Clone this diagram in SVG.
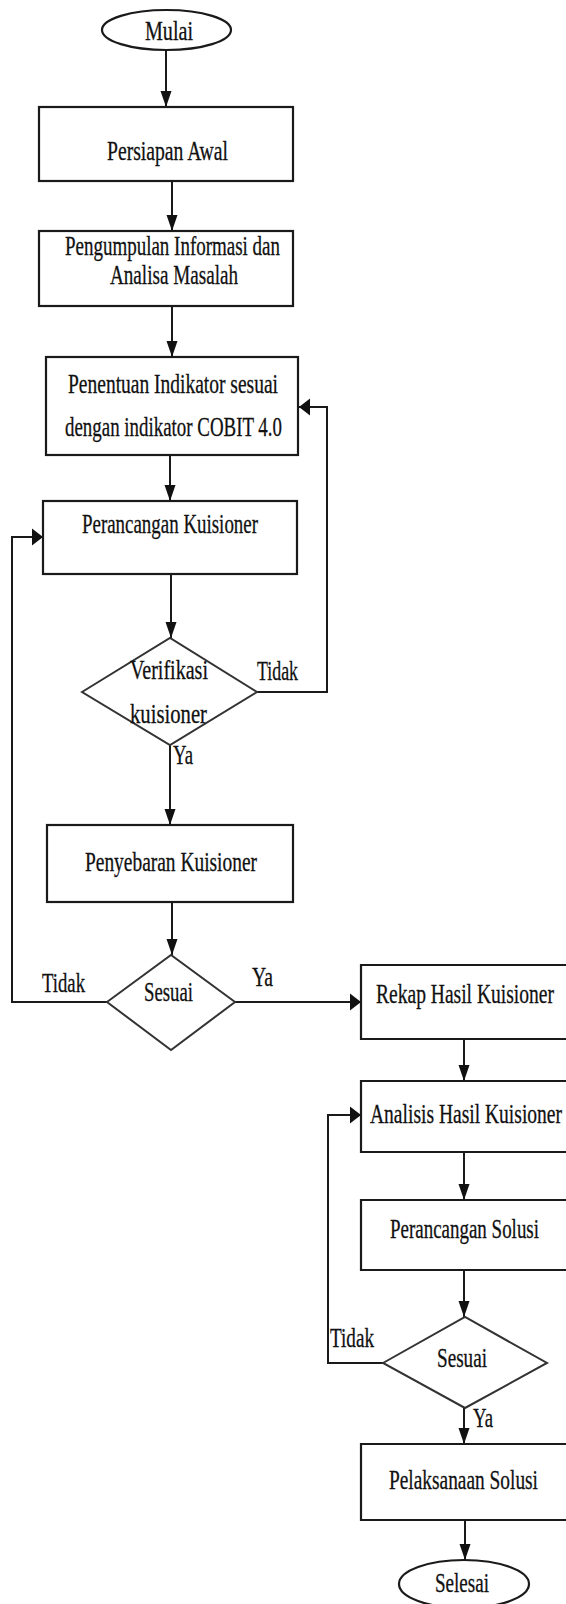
<svg xmlns="http://www.w3.org/2000/svg" width="566" height="1604" viewBox="0 0 566 1604">
<defs>
<style>
.n{fill:#fff;stroke:#1a1a1a;stroke-width:2.2}
.o{fill:none;stroke:#1a1a1a;stroke-width:2.2}
.d{fill:#fff;stroke:#333;stroke-width:2}
.c{fill:none;stroke:#1a1a1a;stroke-width:2}
text{font-family:"Liberation Serif","Times New Roman",serif;font-size:28px;fill:#111;stroke:#111;stroke-width:0.3}
</style>
<marker id="av" markerUnits="userSpaceOnUse" markerWidth="18" markerHeight="12" refX="16" refY="6" orient="auto">
<path d="M0,0.5 L16,6 L0,11.5 Z" fill="#111"/>
</marker>
<marker id="ah" markerUnits="userSpaceOnUse" markerWidth="12" markerHeight="18" refX="11" refY="9" orient="auto">
<path d="M0,0.5 L11,9 L0,17.5 Z" fill="#111"/>
</marker>
</defs>
<rect width="566" height="1604" fill="#fff"/>
<g id="connectors">
<path class="c" d="M166,50 V107" marker-end="url(#av)"/>
<path class="c" d="M172,181 V231" marker-end="url(#av)"/>
<path class="c" d="M172,306 V357" marker-end="url(#av)"/>
<path class="c" d="M170,455 V501" marker-end="url(#av)"/>
<path class="c" d="M171,574 V638" marker-end="url(#av)"/>
<path class="c" d="M170,745 V825" marker-end="url(#av)"/>
<path class="c" d="M257,692 H327 V407 H299" marker-end="url(#ah)"/>
<path class="c" d="M172,902 V955" marker-end="url(#av)"/>
<path class="c" d="M107,1002 H12 V537 H43" marker-end="url(#ah)"/>
<path class="c" d="M235,1002 H361" marker-end="url(#ah)"/>
<path class="c" d="M464,1039 V1081" marker-end="url(#av)"/>
<path class="c" d="M464,1152 V1200" marker-end="url(#av)"/>
<path class="c" d="M464,1270 V1317" marker-end="url(#av)"/>
<path class="c" d="M383,1363 H328 V1115 H361" marker-end="url(#ah)"/>
<path class="c" d="M464,1408 V1444" marker-end="url(#av)"/>
<path class="c" d="M465,1520 V1560" marker-end="url(#av)"/>
<text x="257" y="680" textLength="41" lengthAdjust="spacingAndGlyphs">Tidak</text>
<text x="173" y="764" textLength="20" lengthAdjust="spacingAndGlyphs">Ya</text>
<text x="42" y="992" textLength="43" lengthAdjust="spacingAndGlyphs">Tidak</text>
<text x="252" y="986" textLength="21" lengthAdjust="spacingAndGlyphs">Ya</text>
<text x="330" y="1347" textLength="44" lengthAdjust="spacingAndGlyphs">Tidak</text>
<text x="473" y="1427" textLength="20" lengthAdjust="spacingAndGlyphs">Ya</text>
</g>
<g id="mulai">
<ellipse class="n" cx="166.5" cy="30" rx="64.5" ry="20"/>
<text x="145" y="40" textLength="48" lengthAdjust="spacingAndGlyphs">Mulai</text>
</g>
<g id="persiapan">
<rect class="n" x="39" y="107" width="254" height="74"/>
<text x="107" y="160" textLength="121" lengthAdjust="spacingAndGlyphs">Persiapan Awal</text>
</g>
<g id="pengumpulan">
<rect class="n" x="39" y="231" width="254" height="75"/>
<text x="65" y="255" textLength="215" lengthAdjust="spacingAndGlyphs">Pengumpulan Informasi dan</text>
<text x="110" y="284" textLength="128" lengthAdjust="spacingAndGlyphs">Analisa Masalah</text>
</g>
<g id="penentuan">
<rect class="n" x="46" y="357" width="252" height="98"/>
<text x="68" y="393" textLength="210" lengthAdjust="spacingAndGlyphs">Penentuan Indikator sesuai</text>
<text x="65" y="436" textLength="217" lengthAdjust="spacingAndGlyphs">dengan indikator COBIT 4.0</text>
</g>
<g id="perancangan-kuisioner">
<rect class="n" x="43" y="501" width="254" height="73"/>
<text x="82" y="533" textLength="176" lengthAdjust="spacingAndGlyphs">Perancangan Kuisioner</text>
</g>
<g id="verifikasi">
<polygon class="d" points="82,692 170,638 257,692 170,745"/>
<text x="130" y="679" textLength="78" lengthAdjust="spacingAndGlyphs">Verifikasi</text>
<text x="130" y="723" textLength="77" lengthAdjust="spacingAndGlyphs">kuisioner</text>
</g>
<g id="penyebaran">
<rect class="n" x="47" y="825" width="246" height="77"/>
<text x="85" y="871" textLength="172" lengthAdjust="spacingAndGlyphs">Penyebaran Kuisioner</text>
</g>
<g id="sesuai1">
<polygon class="d" points="107,1002 171,955 235,1002 171,1050"/>
<text x="144" y="1001" textLength="49" lengthAdjust="spacingAndGlyphs">Sesuai</text>
</g>
<g id="rekap">
<rect x="361" y="965" width="205" height="74" fill="#fff"/>
<path class="o" d="M566,965 H361 V1039 H566"/>
<text x="376" y="1003" textLength="178" lengthAdjust="spacingAndGlyphs">Rekap Hasil Kuisioner</text>
</g>
<g id="analisis">
<rect x="361" y="1081" width="205" height="71" fill="#fff"/>
<path class="o" d="M566,1081 H361 V1152 H566"/>
<text x="370" y="1123" textLength="192" lengthAdjust="spacingAndGlyphs">Analisis Hasil Kuisioner</text>
</g>
<g id="perancangan-solusi">
<rect x="361" y="1200" width="205" height="70" fill="#fff"/>
<path class="o" d="M566,1200 H361 V1270 H566"/>
<text x="390" y="1238" textLength="149" lengthAdjust="spacingAndGlyphs">Perancangan Solusi</text>
</g>
<g id="sesuai2">
<polygon class="d" points="383,1363 465,1317 547,1363 465,1408"/>
<text x="437" y="1367" textLength="50" lengthAdjust="spacingAndGlyphs">Sesuai</text>
</g>
<g id="pelaksanaan">
<rect x="361" y="1444" width="205" height="76" fill="#fff"/>
<path class="o" d="M566,1444 H361 V1520 H566"/>
<text x="389" y="1489" textLength="149" lengthAdjust="spacingAndGlyphs">Pelaksanaan Solusi</text>
</g>
<g id="selesai">
<ellipse class="n" cx="464" cy="1584" rx="65" ry="24"/>
<text x="435" y="1592" textLength="54" lengthAdjust="spacingAndGlyphs">Selesai</text>
</g>
</svg>
